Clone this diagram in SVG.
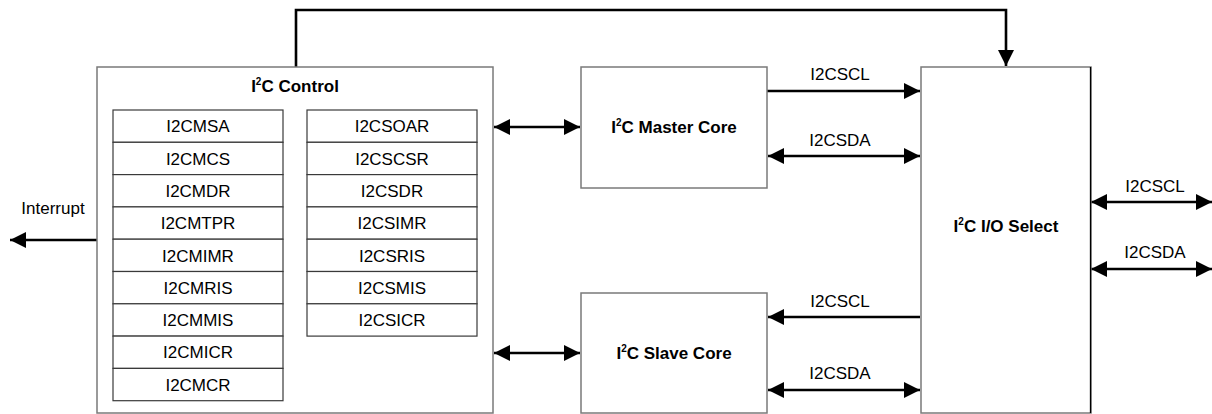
<svg xmlns="http://www.w3.org/2000/svg" width="1212" height="414" viewBox="0 0 1212 414">
<style>
.box{fill:#fff;stroke:#7a7a7a;stroke-width:1.5}
.reg{fill:#fff;stroke:#3a3a3a;stroke-width:1.2}
.t{font-family:"Liberation Sans",Arial,sans-serif;font-size:17px;fill:#000;text-anchor:middle}
.b{font-weight:bold}
.sup{font-size:10px}
.w{fill:none;stroke:#000;stroke-width:2.6}
</style>
<defs>
<marker id="ah" markerUnits="userSpaceOnUse" markerWidth="17" markerHeight="17" refX="16" refY="8" orient="auto-start-reverse" viewBox="0 0 17 17">
<path d="M0,0 L16,8 L0,16 z" fill="#000"/>
</marker>
</defs>

<g id="connectors">
<path class="w" d="M296,67 V10 H1006 V66" marker-end="url(#ah)"/>
<line class="w" x1="97" y1="240" x2="10" y2="240" marker-end="url(#ah)"/>
<line class="w" x1="494" y1="127" x2="580" y2="127" marker-start="url(#ah)" marker-end="url(#ah)"/>
<line class="w" x1="494" y1="353" x2="580" y2="353" marker-start="url(#ah)" marker-end="url(#ah)"/>
<line class="w" x1="767" y1="91" x2="920" y2="91" marker-end="url(#ah)"/>
<line class="w" x1="768" y1="156" x2="920" y2="156" marker-start="url(#ah)" marker-end="url(#ah)"/>
<line class="w" x1="920" y1="317" x2="768" y2="317" marker-end="url(#ah)"/>
<line class="w" x1="768" y1="390" x2="920" y2="390" marker-start="url(#ah)" marker-end="url(#ah)"/>
<line class="w" x1="1091" y1="202" x2="1212" y2="202" marker-start="url(#ah)" marker-end="url(#ah)"/>
<line class="w" x1="1091" y1="269" x2="1212" y2="269" marker-start="url(#ah)" marker-end="url(#ah)"/>
<text class="t" x="53" y="214">Interrupt</text>
<text class="t" x="840" y="80">I2CSCL</text>
<text class="t" x="840" y="146">I2CSDA</text>
<text class="t" x="840" y="307">I2CSCL</text>
<text class="t" x="840" y="379">I2CSDA</text>
<text class="t" x="1155" y="192">I2CSCL</text>
<text class="t" x="1155" y="258">I2CSDA</text>
</g>

<g id="control">
<rect class="box" x="97" y="67" width="396" height="346"/>
<text class="t b" x="295" y="92">I<tspan class="sup" dy="-7">2</tspan><tspan dy="7">C Control</tspan></text>
<g id="master-regs">
<rect class="reg" x="113" y="110" width="170" height="32.3"/>
<rect class="reg" x="113" y="142.3" width="170" height="32.3"/>
<rect class="reg" x="113" y="174.6" width="170" height="32.3"/>
<rect class="reg" x="113" y="206.9" width="170" height="32.3"/>
<rect class="reg" x="113" y="239.2" width="170" height="32.3"/>
<rect class="reg" x="113" y="271.5" width="170" height="32.3"/>
<rect class="reg" x="113" y="303.8" width="170" height="32.3"/>
<rect class="reg" x="113" y="336.1" width="170" height="32.3"/>
<rect class="reg" x="113" y="368.4" width="170" height="32.3"/>
<text class="t" x="198" y="132.3">I2CMSA</text>
<text class="t" x="198" y="164.6">I2CMCS</text>
<text class="t" x="198" y="196.9">I2CMDR</text>
<text class="t" x="198" y="229.2">I2CMTPR</text>
<text class="t" x="198" y="261.5">I2CMIMR</text>
<text class="t" x="198" y="293.8">I2CMRIS</text>
<text class="t" x="198" y="326.1">I2CMMIS</text>
<text class="t" x="198" y="358.4">I2CMICR</text>
<text class="t" x="198" y="390.7">I2CMCR</text>
</g>
<g id="slave-regs">
<rect class="reg" x="307" y="110" width="170" height="32.3"/>
<rect class="reg" x="307" y="142.3" width="170" height="32.3"/>
<rect class="reg" x="307" y="174.6" width="170" height="32.3"/>
<rect class="reg" x="307" y="206.9" width="170" height="32.3"/>
<rect class="reg" x="307" y="239.2" width="170" height="32.3"/>
<rect class="reg" x="307" y="271.5" width="170" height="32.3"/>
<rect class="reg" x="307" y="303.8" width="170" height="32.3"/>
<text class="t" x="392" y="132.3">I2CSOAR</text>
<text class="t" x="392" y="164.6">I2CSCSR</text>
<text class="t" x="392" y="196.9">I2CSDR</text>
<text class="t" x="392" y="229.2">I2CSIMR</text>
<text class="t" x="392" y="261.5">I2CSRIS</text>
<text class="t" x="392" y="293.8">I2CSMIS</text>
<text class="t" x="392" y="326.1">I2CSICR</text>
</g>
</g>

<g id="master-core">
<rect class="box" x="581" y="67" width="186" height="121"/>
<text class="t b" x="674" y="133">I<tspan class="sup" dy="-7">2</tspan><tspan dy="7">C Master Core</tspan></text>
</g>

<g id="slave-core">
<rect class="box" x="581" y="293" width="186" height="120"/>
<text class="t b" x="674" y="359">I<tspan class="sup" dy="-7">2</tspan><tspan dy="7">C Slave Core</tspan></text>
</g>

<g id="io-select">
<rect class="box" x="921" y="67" width="170" height="346"/>
<line x1="1090.5" y1="67" x2="1090.5" y2="413" stroke="#000" stroke-width="1.3"/>
<text class="t b" x="1006" y="232">I<tspan class="sup" dy="-7">2</tspan><tspan dy="7">C I/O Select</tspan></text>
</g>
</svg>
